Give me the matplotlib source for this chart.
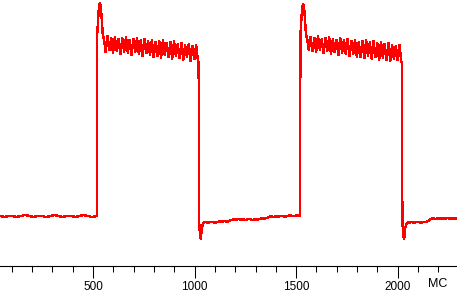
import numpy as np
import matplotlib
matplotlib.use("Agg")
import matplotlib.pyplot as plt
from matplotlib.ticker import MultipleLocator

plt.rcParams['font.family'] = ['Liberation Sans', 'DejaVu Sans']

# signal level (arbitrary units, height above the time axis), time in ms
low1_t = (42, 516)
low1_v = [50, 49, 50, 50, 49, 50, 51, 50, 49, 50, 50, 49, 50, 51, 50, 49,
          50, 50, 49, 50, 51, 50, 49, 50]

spike1_t = [519, 521, 529, 534, 539, 544, 549]
spike1_v = [50, 233, 259, 263, 258, 243, 228]

plateau1_t = (553, 1017)
plateau1_v = [229, 214, 230, 216, 228, 213, 229, 215, 227, 212, 228, 214,
              229, 213, 226, 211, 227, 214, 228, 212, 226, 210, 227, 213,
              225, 211, 226, 209, 224, 210, 225, 208, 226, 211, 223, 209,
              224, 207, 225, 210, 222, 208, 223, 206, 221, 209, 222, 205,
              220, 207, 221, 204]

fall1_t = [1020, 1022, 1027, 1031, 1035, 1040, 1045, 1050]
fall1_v = [204, 45, 30, 27, 38, 41, 43, 44]

low2_t = (1055, 1515)
low2_v = [44, 43, 44, 44, 43, 44, 45, 44, 45, 44, 45, 46, 47, 46, 47, 46,
          47, 46, 47, 47, 46, 47, 46, 47, 48, 47, 48, 49, 50, 49, 50, 49,
          50, 50, 49, 50, 51, 50, 50, 51, 50]

spike2_t = [1519, 1521, 1529, 1534, 1539, 1544, 1549]
spike2_v = [50, 231, 257, 262, 259, 245, 229]

plateau2_t = (1553, 2018)
plateau2_v = [230, 216, 229, 215, 228, 214, 230, 216, 227, 213, 228, 215,
              229, 212, 227, 214, 226, 211, 228, 213, 226, 212, 227, 210,
              225, 212, 226, 209, 224, 209, 225, 208, 226, 210, 224, 207,
              225, 209, 223, 206, 224, 208, 222, 206, 223, 205, 221, 207,
              220, 206, 221, 204]

fall2_t = [2021, 2023, 2028, 2032, 2036, 2041, 2046, 2051]
fall2_v = [204, 44, 30, 27, 37, 41, 43, 44]

low3_t = (2056, 2292)
low3_v = [43, 44, 43, 44, 44, 43, 44, 44, 45, 47, 48, 47, 48, 47, 48, 47,
          48, 47, 48, 47, 48]

major_ticks = [500, 1000, 1500, 2000]
unit_label = "мс".upper()


def seg(span, vals):
    return np.linspace(span[0], span[1], len(vals)), np.array(vals)


parts = [seg(low1_t, low1_v), (np.array(spike1_t), np.array(spike1_v)),
         seg(plateau1_t, plateau1_v), (np.array(fall1_t), np.array(fall1_v)),
         seg(low2_t, low2_v), (np.array(spike2_t), np.array(spike2_v)),
         seg(plateau2_t, plateau2_v), (np.array(fall2_t), np.array(fall2_v)),
         seg(low3_t, low3_v)]
t = np.concatenate([p[0] for p in parts])
v = np.concatenate([p[1] for p in parts])

fig = plt.figure(figsize=(4.57, 2.92), dpi=100)
ax = fig.add_axes([0, 26 / 292, 1, 266 / 292])
ax.plot(t, v, color="#ff0000", lw=1.0, antialiased=False)

ax.set_xlim(41.9, 41.9 + 457 / 0.2031)
ax.set_ylim(0, 266)
for s in ["top", "left", "right"]:
    ax.spines[s].set_visible(False)
ax.spines["bottom"].set_linewidth(0.8)
ax.set_yticks([])
ax.set_xticks(major_ticks)
ax.xaxis.set_minor_locator(MultipleLocator(100))
ax.tick_params(axis="x", which="major", length=8.6, width=0.75,
               direction="out", pad=2.4, labelsize=8.5)
ax.tick_params(axis="x", which="minor", length=4.3, width=0.75,
               direction="out")

fig.text(438 / 457, 1 - 284 / 292, unit_label, ha="center", va="center",
         fontsize=9)

fig.savefig("out.png", dpi=100)
